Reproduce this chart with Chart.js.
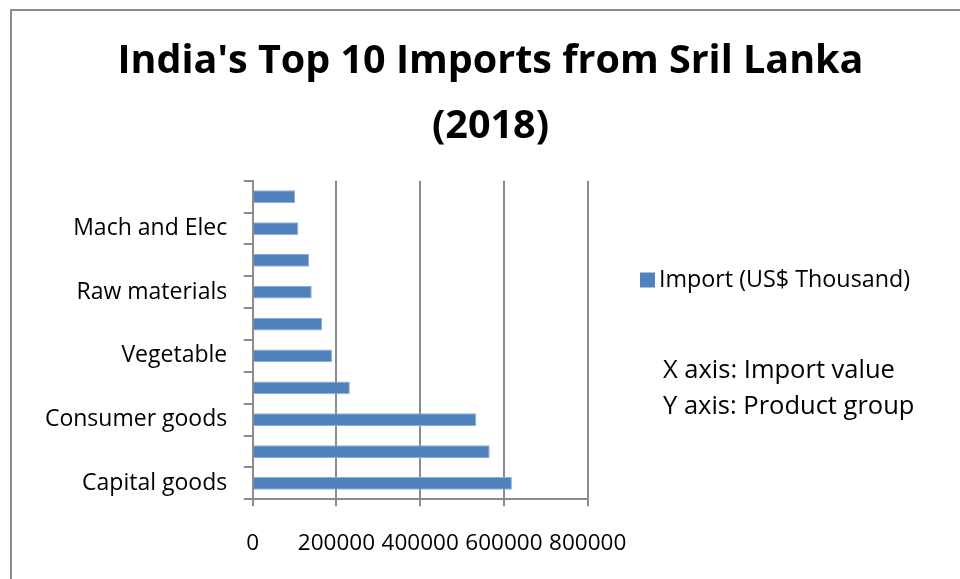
<!DOCTYPE html>
<html>
<head>
<meta charset="utf-8">
<script src="https://cdn.jsdelivr.net/npm/chart.js@4/dist/chart.umd.min.js"></script>
<style>
  html, body { margin: 0; padding: 0; background: #fff; }
  #wrap { position: relative; width: 960px; height: 579px; overflow: hidden; background: #fff; }
  #frame { position: absolute; left: 10px; top: 9px; width: 1000px; height: 700px;
           border-left: 2px solid #8c8c8c; border-top: 2px solid #8c8c8c; }
  canvas { position: absolute; left: 0; top: 0; }
</style>
</head>
<body>
<div id="wrap">
  <div id="frame"></div>
  <canvas id="chart" width="960" height="579"></canvas>
</div>
<script>
// Product groups, listed from the bottom bar to the top bar
const productGroups = [
  'Capital goods',
  'Intermediate goods',
  'Consumer goods',
  'Food Products',
  'Vegetable',
  'Animal',
  'Raw materials',
  'Plastic or Rubber',
  'Mach and Elec',
  'Textiles and Clothing'
];

// Import value, US$ thousand
const importValues = [619000, 566000, 534000, 232000, 190000, 166000, 141000, 134500, 109000, 101000];

const valueTicks = [0, 200000, 400000, 600000, 800000];
const seriesLabel = 'Import (US$ Thousand)';
const titleLines = ["India's Top 10 Imports from Sril Lanka", '(2018)'];
const notes = ['X axis: Import value', 'Y axis: Product group'];

const FONT = "'Open Sans', 'Liberation Sans', sans-serif";
const AXIS_GREY = '#8c8c8c';
const BAR_BLUE = '#4f81bd';
const BAR_EDGE = '#8eaed6';

Chart.defaults.color = '#000';
Chart.defaults.font.family = FONT;

// Legend swatch plus the two axis notes, drawn in the space to the right of the plot
const sideNotes = {
  id: 'sideNotes',
  afterDraw(chart, args, opts) {
    const ctx = chart.ctx;
    const ds = chart.data.datasets[0];
    ctx.save();
    ctx.fillStyle = ds.backgroundColor;
    ctx.fillRect(opts.swatchX, opts.legendY - opts.swatch / 2, opts.swatch, opts.swatch);
    ctx.fillStyle = '#000';
    ctx.textBaseline = 'middle';
    ctx.textAlign = 'left';
    ctx.font = opts.legendSize + 'px ' + FONT;
    ctx.fillText(ds.label, opts.labelX, opts.legendY);
    ctx.font = opts.noteSize + 'px ' + FONT;
    notes.forEach((line, i) => ctx.fillText(line, opts.noteX, opts.noteY + i * opts.noteGap));
    ctx.restore();
  }
};

new Chart(document.getElementById('chart'), {
  type: 'bar',
  data: {
    labels: productGroups,
    datasets: [{
      label: seriesLabel,
      data: importValues,
      backgroundColor: BAR_BLUE,
      borderColor: BAR_EDGE,
      borderWidth: 1,
      barPercentage: 0.4,
      categoryPercentage: 1.0
    }]
  },
  options: {
    indexAxis: 'y',
    responsive: false,
    animation: false,
    layout: { padding: { left: 21, right: 0, top: 0, bottom: 0 } },
    plugins: {
      legend: { display: false },
      tooltip: { enabled: false },
      title: {
        display: true,
        text: titleLines,
        font: { family: FONT, size: 39.5, weight: 'bold', lineHeight: 1.646 },
        padding: { top: 29.5, bottom: 21.2 },
        color: '#000'
      },
      sideNotes: {
        swatchX: 640, swatch: 15, labelX: 659, legendY: 280, legendSize: 23.3,
        noteX: 663, noteY: 371, noteGap: 36, noteSize: 25.5
      }
    },
    scales: {
      x: {
        type: 'linear',
        min: 0,
        max: 800000,
        afterBuildTicks: s => { s.ticks = valueTicks.map(v => ({ value: v })); },
        afterFit: s => { s.height = 79.7; },
        ticks: {
          font: { size: 22.5 },
          padding: 24,
          maxRotation: 0,
          autoSkip: false,
          callback: v => String(v)
        },
        grid: { color: AXIS_GREY, lineWidth: 2, tickLength: 7, drawTicks: true },
        border: { color: AXIS_GREY, width: 2 }
      },
      y: {
        reverse: true,
        afterFit: s => { s.width = 231.7; },
        ticks: {
          font: { size: 23 },
          padding: 16.5,
          autoSkip: false,
          callback: (v, i) => (i % 2 === 0 ? productGroups[i] : '')
        },
        grid: { drawOnChartArea: false, color: AXIS_GREY, lineWidth: 2, tickLength: 9, offset: true },
        border: { color: AXIS_GREY, width: 2 }
      },
      side: {
        type: 'linear',
        position: 'right',
        display: true,
        grid: { display: false },
        border: { display: false },
        ticks: { display: false },
        afterFit: s => { s.width = 372.3; }
      }
    }
  },
  plugins: [sideNotes]
});
</script>
</body>
</html>
